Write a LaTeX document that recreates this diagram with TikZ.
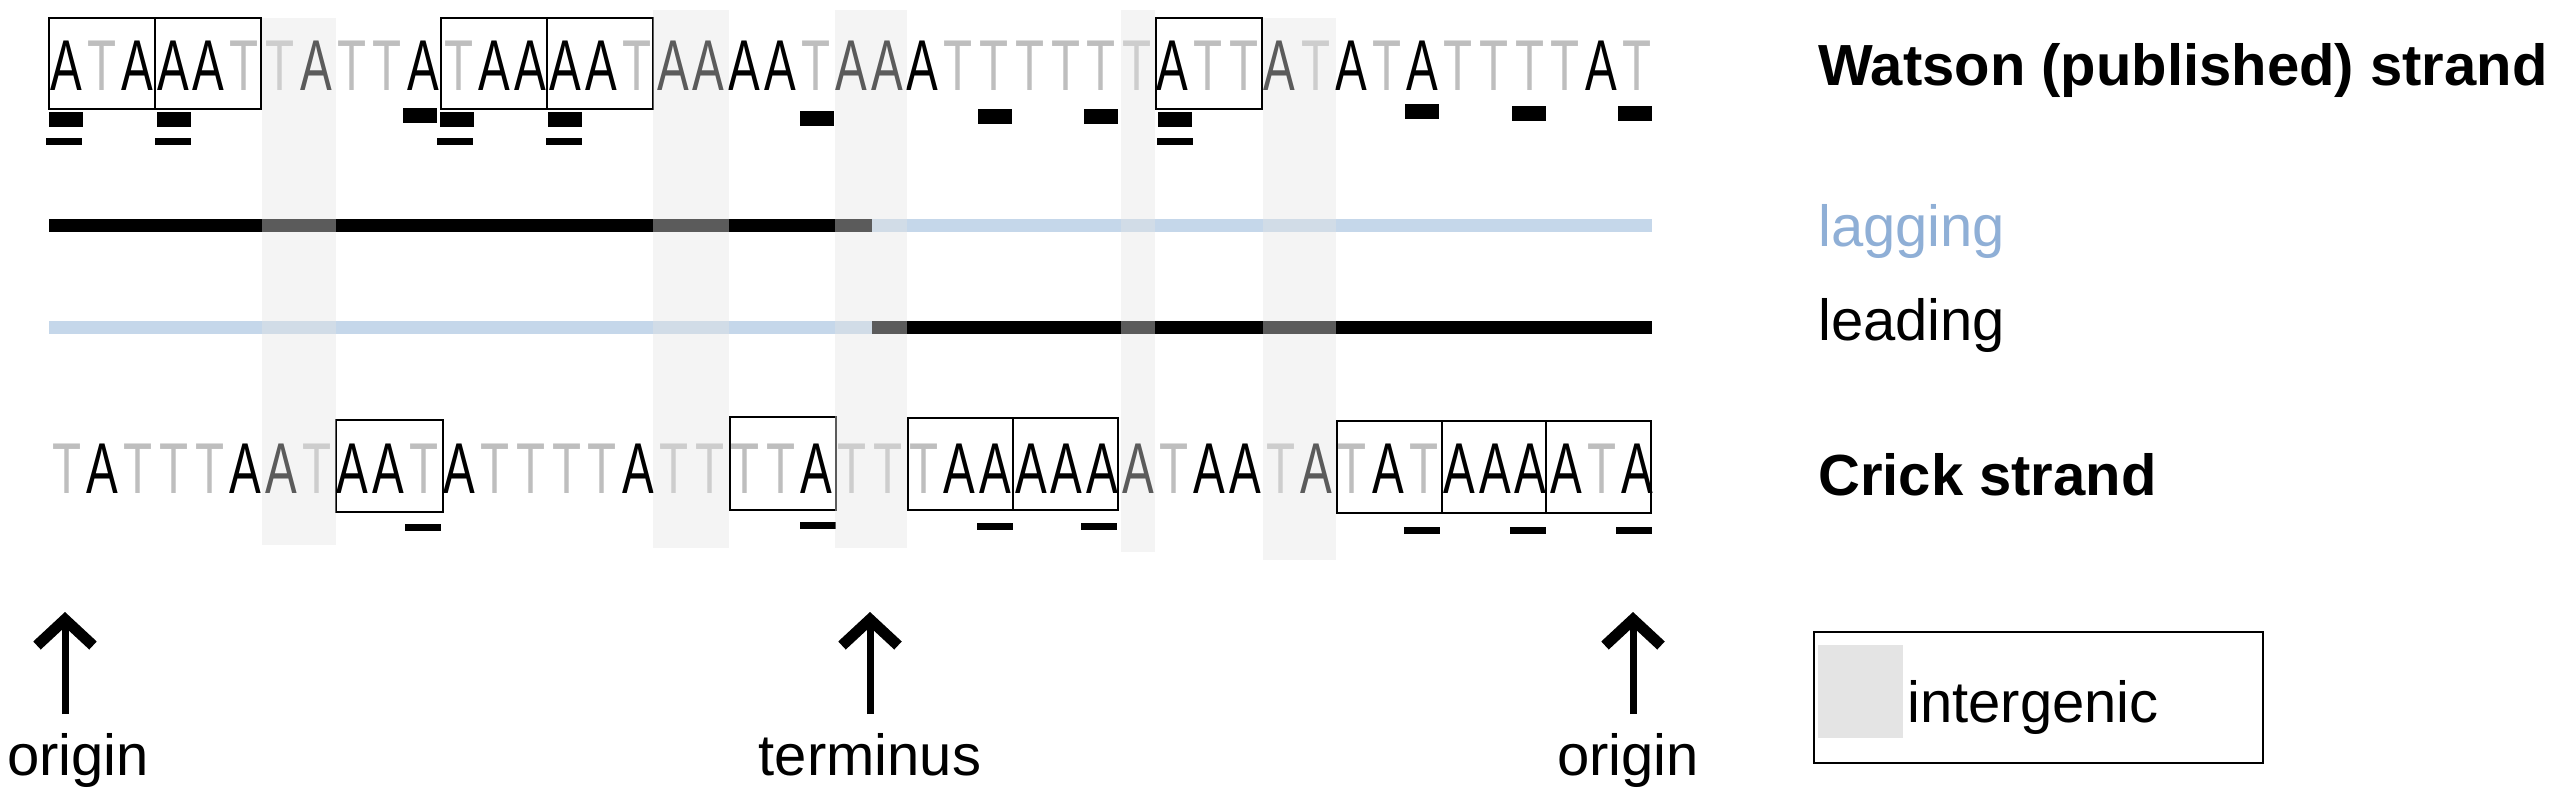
\documentclass[tikz,border=0pt]{standalone}
\usepackage{fontspec}
\setmainfont{Liberation Sans}
\usetikzlibrary{arrows.meta}
\definecolor{lblue}{RGB}{197,215,234}
\definecolor{lagtxt}{RGB}{143,175,214}
\definecolor{tgray}{RGB}{190,190,190}
\definecolor{igray}{RGB}{228,228,228}
\tikzset{
  lettA/.style={inner sep=0pt,anchor=base,text=black,font=\fontsize{72}{72}\selectfont},
  lettT/.style={inner sep=0pt,anchor=base,text=tgray,font=\fontsize{72}{72}\selectfont},
  sbox/.style={draw=black,line width=1.5pt},
  lbl/.style={inner sep=0pt,anchor=base west,font=\fontsize{58}{58}\selectfont},
  shadecol/.style={fill=igray,fill opacity=0.4,draw=none},
  strandline/.style={line width=13pt},
  arr/.style={line width=7pt,-{Straight Barb[length=26pt,width=56pt,line width=11pt]}},
  lowlbl/.style={inner sep=0pt,anchor=base,font=\fontsize{58}{58}\selectfont},
}
\newcommand{\nar}[1]{\ifx A#1\scalebox{0.62}[1]{\bfseries #1}\else\scalebox{0.66}[1]{#1}\fi}
\begin{document}
\begin{tikzpicture}[x=1pt,y=-1pt]
\useasboundingbox (0,0) rectangle (2560,800);
% strands
\foreach \c [count=\i from 0] in {A,T,A,A,A,T,T,A,T,T,A,T,A,A,A,A,T,A,A,A,A,T,A,A,A,T,T,T,T,T,T,A,T,T,A,T,A,T,A,T,T,T,T,A,T}
  \node[lett\c] (w\i) at ({66+35.7*\i},91) {\nar{\c}};
\foreach \c [count=\i from 0] in {T,A,T,T,T,A,A,T,A,A,T,A,T,T,T,T,A,T,T,T,T,A,T,T,T,A,A,A,A,A,A,T,A,A,T,A,T,A,T,A,A,A,A,T,A}
  \node[lett\c] (c\i) at ({67+35.7*\i},493) {\nar{\c}};
% boxes
\foreach \a/\b in {49/155,155/261,441/547,547/653,1156/1262}
  \draw[sbox] (\a,18) rectangle (\b,109);
\foreach \a/\b/\t/\u in {336/443/420/512,730/836/417/510,908/1013/418/510,1013/1118/418/510,1337/1442/421/513,1442/1546/421/513,1546/1651/421/513}
  \draw[sbox] (\a,\t) rectangle (\b,\u);
% dashes
\foreach \a/\t in {49/112,157/112,403/108,440/112,548/112,800/111,978/109,1084/109,1158/112,1405/104,1512/106,1618/106}
  \fill (\a,\t) rectangle ++(34,15);
\foreach \a in {46,155,437,546,1157}
  \fill (\a,138) rectangle ++(36,7);
\foreach \a/\t in {405/524,800/522,977/523,1081/523,1404/527,1510/527,1616/527}
  \fill (\a,\t) rectangle ++(36,7);
% replication lines
\coordinate (lagA) at (49,225); \coordinate (lagB) at (872,225); \coordinate (lagC) at (1652,225);
\coordinate (leaA) at (49,327); \coordinate (leaB) at (872,327); \coordinate (leaC) at (1652,327);
\draw[strandline,black] (lagA) -- (lagB);
\draw[strandline,lblue] (lagB) -- (lagC);
\draw[strandline,lblue] (leaA) -- (leaB);
\draw[strandline,black] (leaB) -- (leaC);
% intergenic shading
\foreach \a/\b/\t/\u in {262/336/18/545,653/729/10/548,835/907/10/548,1121/1155/10/552,1263/1336/18/560}
  \fill[shadecol] (\a,\t) rectangle (\b,\u);
% labels
\node[lbl,font=\fontsize{58}{58}\selectfont\bfseries] (watson) at (1818,85) {Watson (published) strand};
\node[lbl,text=lagtxt] (lagging) at (1818,246) {lagging};
\node[lbl] (leading) at (1818,340) {leading};
\node[lbl,font=\fontsize{58}{58}\selectfont\bfseries] (crick) at (1818,495) {Crick strand};
% arrows
\coordinate (o1b) at (65,714); \coordinate (o1t) at (65,612);
\coordinate (tb) at (870,714); \coordinate (tt) at (870,612);
\coordinate (o2b) at (1633,714); \coordinate (o2t) at (1633,612);
\draw[arr] (o1b) -- (o1t);
\draw[arr] (tb) -- (tt);
\draw[arr] (o2b) -- (o2t);
\node[lowlbl] (orig1) at (78,775) {origin};
\node[lowlbl] (term) at (870,775) {terminus};
\node[lowlbl] (orig2) at (1628,775) {origin};
% legend
\draw[line width=2pt] (1814,632) rectangle (2263,763);
\fill[igray] (1818,645) rectangle (1903,738);
\node[lbl] (interg) at (1907,722) {intergenic};
\end{tikzpicture}
\end{document}
